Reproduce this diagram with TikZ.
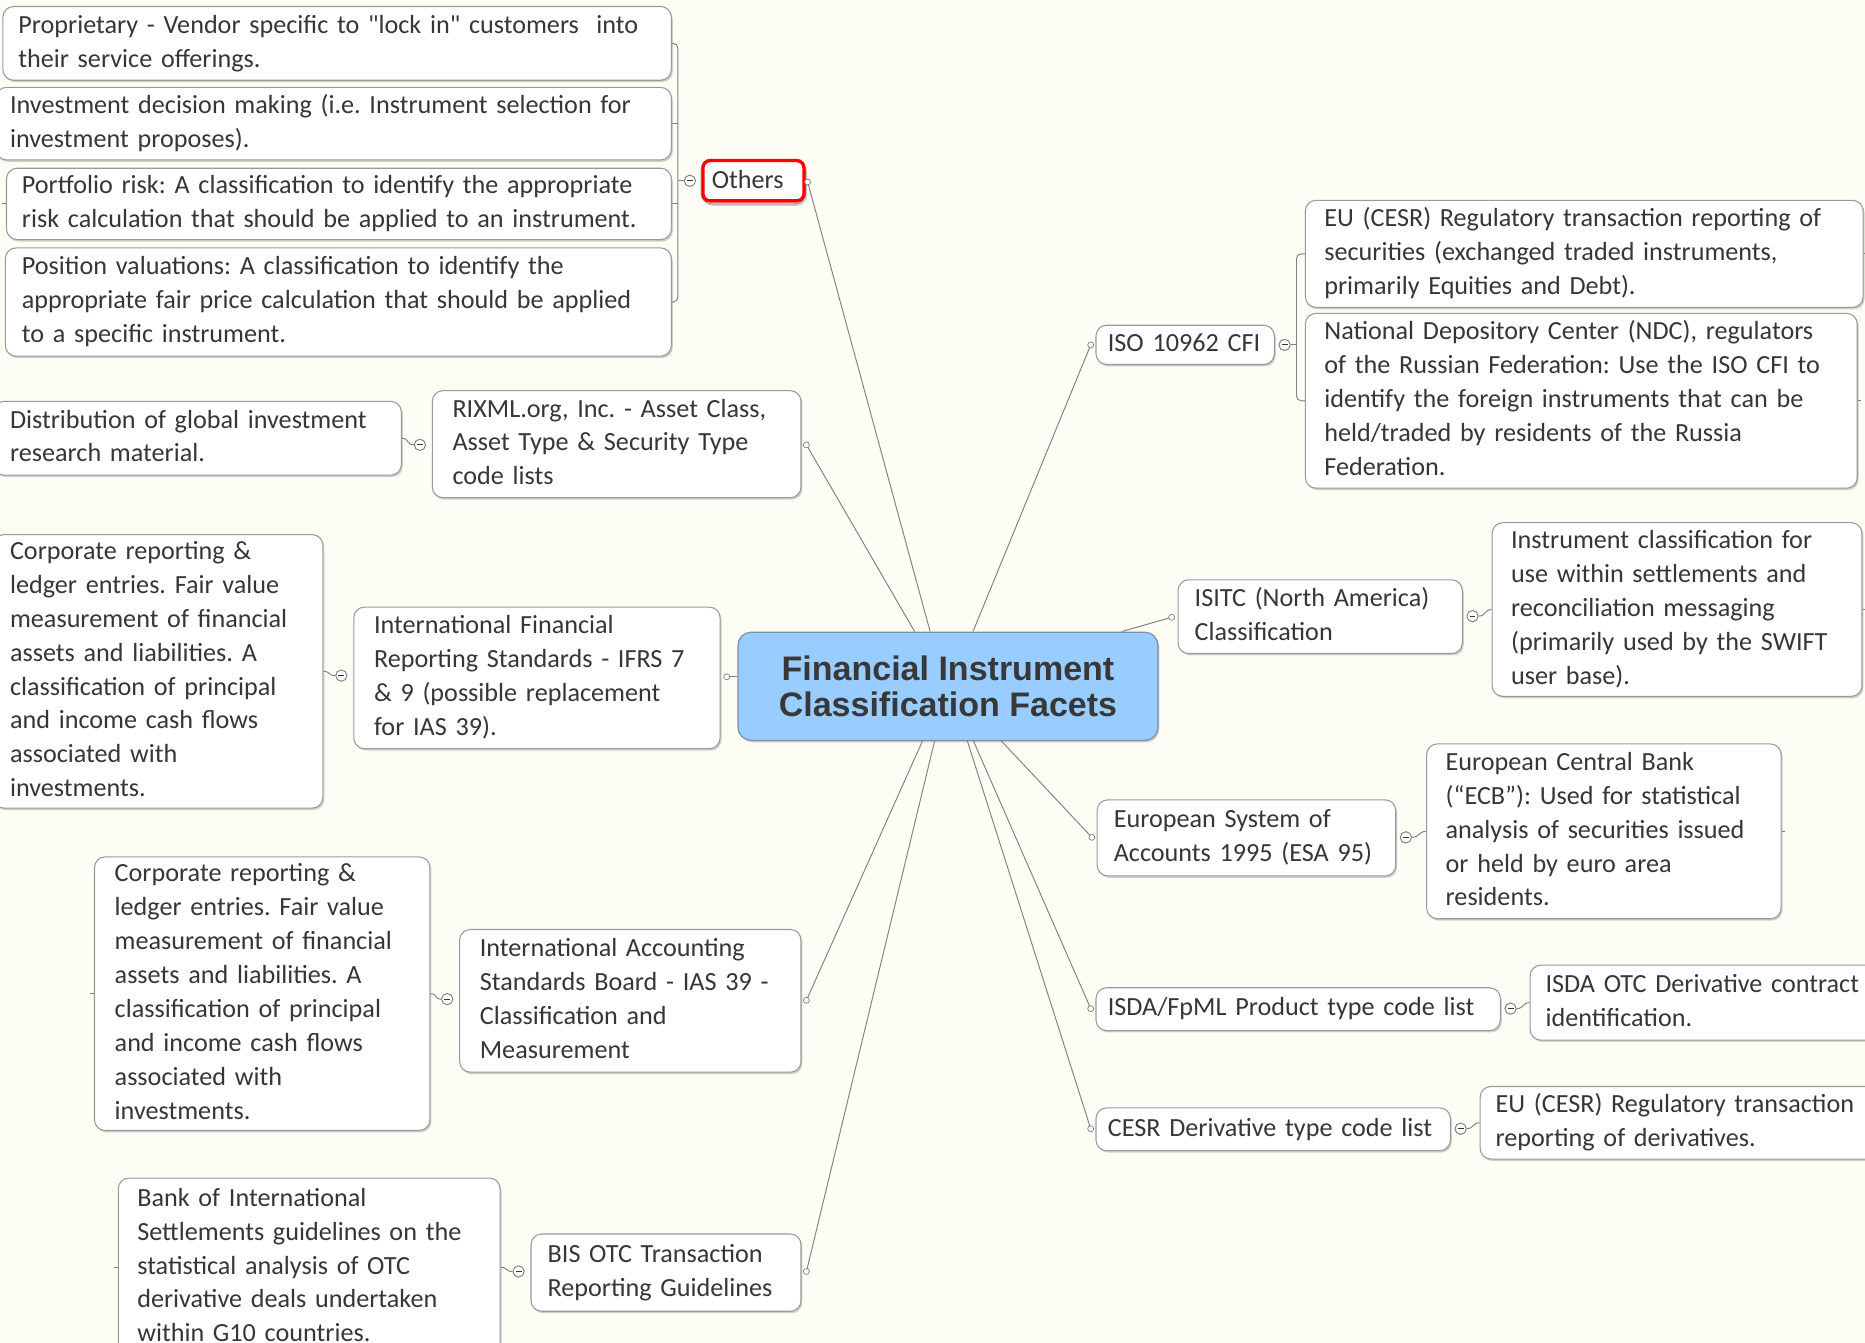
\documentclass[tikz,border=0pt]{standalone}
\usepackage{fontspec}
\newfontfamily\calfont{Carlito}
\newfontfamily\arialfont{Liberation Sans}
\usetikzlibrary{calc,shadows}
\definecolor{bgc}{HTML}{FDFDF6}
\definecolor{bordc}{HTML}{9A9A9A}
\definecolor{txtc}{HTML}{363636}
\definecolor{connc}{HTML}{808080}
\definecolor{cfill}{HTML}{99CCFF}
\definecolor{cbord}{HTML}{7890A8}
\definecolor{titc}{HTML}{383838}
\frenchspacing
\newcommand\tl[1]{\begin{tabular}{@{}l@{}}#1\end{tabular}}
\tikzset{
  leaf/.style={draw=bordc, line width=0.9pt, rounded corners=9pt, fill=white,
    anchor=north west, align=left, inner ysep=0pt,
    font=\calfont\frenchspacing\fontsize{22}{28.5}\selectfont, text=txtc,
    drop shadow={shadow xshift=1.2pt, shadow yshift=-1.6pt, fill=black!60, opacity=0.3}},
  central/.style={draw=cbord, fill=cfill, line width=1pt, rounded corners=11pt,
    anchor=north west, minimum width=353pt, minimum height=91pt, align=center,
    inner sep=0pt, font=\arialfont\bfseries\fontsize{28.6}{31}\selectfont, text=titc,
    drop shadow={shadow xshift=1.2pt, shadow yshift=-1.6pt, fill=black!60, opacity=0.3}},
  collapse/.style={circle, draw=connc, fill=white, line width=0.8pt, minimum size=9.5pt, inner sep=0pt,
    path picture={\draw[line width=0.9pt, draw=txtc] ([xshift=-2.5pt]path picture bounding box.center) -- ([xshift=2.5pt]path picture bounding box.center);}},
  dotc/.style={circle, draw=connc, fill=white, line width=0.6pt, minimum size=5pt, inner sep=0pt},
  conn/.style={draw=connc, line width=0.8pt},
}
\begin{document}
\begin{tikzpicture}[x=1pt, y=-1pt]
\useasboundingbox (0,0) rectangle (1568,1129);
\fill[bgc] (0,0) rectangle (1568,1129);
\clip (0,0) rectangle (1568,1129);

% ---------- connectors from central (drawn first, under boxes) ----------
\coordinate (ctl) at (620,531);
\coordinate (cbl) at (620,622);
\coordinate (rixd0) at (678,374);
\coordinate (othd0) at (679,153);
\coordinate (isod0) at (917,290);
\coordinate (isitcd0) at (985,519);
\coordinate (ifrsd0) at (611,569);
\coordinate (iasd0) at (678,841);
\coordinate (bisd0) at (678,1069);
\coordinate (cesrdd0) at (917,949);
\coordinate (isdad0) at (917,848);
\coordinate (esad0) at (918,704);
\draw[conn] ($(ctl)+(149,0)$) -- (rixd0);
\draw[conn] ($(ctl)+(162,0)$) -- (othd0);
\draw[conn] ($(ctl)+(198,0)$) -- (isod0);
\draw[conn] ($(ctl)+(323,0)$) -- (isitcd0);
\draw[conn] ($(ctl)+(0,38)$) -- (ifrsd0);
\draw[conn] ($(cbl)+(156,0)$) -- (iasd0);
\draw[conn] ($(cbl)+(166,0)$) -- (bisd0);
\draw[conn] ($(cbl)+(193,0)$) -- (cesrdd0);
\draw[conn] ($(cbl)+(198,0)$) -- (isdad0);
\draw[conn] ($(cbl)+(221,0)$) -- (esad0);

% ---------- central ----------
\node[central] (c) at (ctl) {Financial Instrument\\Classification Facets};

% ---------- Others subtree ----------
\node[leaf, inner xsep=13pt, text width=536pt, minimum height=62pt] (p1) at (2,5)
  {\tl{Proprietary - Vendor specific to "lock in" customers~ into\\their service offerings.}};
\node[leaf, inner xsep=12pt, text width=544pt, minimum height=61pt] (p2) at (-4,73)
  {\tl{Investment decision making (i.e. Instrument selection for\\investment proposes).}};
\node[leaf, inner xsep=13pt, text width=533pt, minimum height=60pt] (p3) at (5,141)
  {\tl{Portfolio risk: A classification to identify the appropriate\\risk calculation that should be applied to an instrument.}};
\node[leaf, inner xsep=14pt, text width=532pt, minimum height=91pt] (p4) at (4,208)
  {\tl{Position valuations: A classification to identify the\\appropriate fair price calculation that should be applied\\to a specific instrument.}};
\node[leaf, inner xsep=9pt, text width=70pt, minimum height=37pt] (oth) at (589,134)
  {\tl{Others}};
\draw[red, line width=2.8pt, rounded corners=6pt] ($(oth.north west)+(2,1)$) rectangle ($(oth.south east)+(-2,-3)$);
\node[dotc] (othd) at (othd0) {};
\node[collapse] (othc) at (580,152) {};
\coordinate (obx) at ($(p1.east)+(5,0)$);
\draw[conn, rounded corners=4pt] (p1.east) -- (obx) |- (p4.east);
\draw[conn] (p2.east) -- +(5,0);
\draw[conn] (p3.east) -- +(5,0);
\draw[conn] (othc.west) -- (othc.west -| obx);
\draw[conn] (p3.west) -- +(-3,0);

% ---------- RIXML ----------
\node[leaf, inner xsep=17pt, text width=276pt, minimum height=90pt] (rix) at (363,328)
  {\tl{RIXML.org, Inc. - Asset Class,\\Asset Type \& Security Type\\code lists}};
\node[leaf, inner xsep=14pt, text width=315pt, minimum height=62pt] (dist) at (-6,337)
  {\tl{Distribution of global investment\\research material.}};
\node[dotc] (rixd) at (rixd0) {};
\node[collapse] (rixc) at (353,374) {};
\draw[conn] (rixc.west) .. controls +(-6,0) and +(6,0) .. (dist.east);

% ---------- IFRS ----------
\node[leaf, inner xsep=17pt, text width=274pt, minimum height=119pt] (ifrs) at (297,510)
  {\tl{International Financial\\Reporting Standards - IFRS 7\\\& 9 (possible replacement\\for IAS 39).}};
\node[leaf, inner xsep=14pt, text width=249pt, minimum height=230pt] (corp1) at (-6,449)
  {\tl{Corporate reporting \&\\ledger entries. Fair value\\measurement of financial\\assets and liabilities. A\\classification of principal\\and income cash flows\\associated with\\investments.}};
\node[dotc] (ifrsd) at (ifrsd0) {};
\node[collapse] (ifrsc) at (287,568) {};
\draw[conn] (ifrsc.west) .. controls +(-6,0) and +(6,0) .. (corp1.east);

% ---------- IAS 39 ----------
\node[leaf, inner xsep=17pt, text width=253pt, minimum height=120pt] (ias) at (386,781)
  {\tl{International Accounting\\Standards Board - IAS 39 -\\Classification and\\Measurement}};
\node[leaf, inner xsep=17pt, text width=248pt, minimum height=230pt] (corp2) at (79,720)
  {\tl{Corporate reporting \&\\ledger entries. Fair value\\measurement of financial\\assets and liabilities. A\\classification of principal\\and income cash flows\\associated with\\investments.}};
\node[dotc] (iasd) at (iasd0) {};
\node[collapse] (iasc) at (376,840) {};
\draw[conn] (iasc.west) .. controls +(-6,0) and +(6,0) .. (corp2.east);
\draw[conn] (corp2.west) -- +(-3,0);

% ---------- BIS ----------
\node[leaf, inner xsep=14pt, text width=199pt, minimum height=65pt] (bis) at (446,1037)
  {\tl{BIS OTC Transaction\\Reporting Guidelines}};
\node[leaf, inner xsep=16pt, text width=289pt, minimum height=150pt] (bank) at (99,990)
  {\tl{Bank of International\\Settlements guidelines on the\\statistical analysis of OTC\\derivative deals undertaken\\within G10 countries.}};
\node[dotc] (bisd) at (bisd0) {};
\node[collapse] (bisc) at (436,1069) {};
\draw[conn] (bisc.west) .. controls +(-6,0) and +(6,0) .. (bank.east);
\draw[conn] (bank.west) -- +(-3,0);

% ---------- ISO 10962 CFI ----------
\node[leaf, inner xsep=10pt, text width=130pt, minimum height=33pt] (iso) at (921,273)
  {\tl{ISO 10962 CFI}};
\node[leaf, inner xsep=16pt, text width=437pt, minimum height=90pt] (eucesr) at (1097,168)
  {\tl{EU (CESR) Regulatory transaction reporting of\\securities (exchanged traded instruments,\\primarily Equities and Debt).}};
\node[leaf, inner xsep=16pt, text width=432pt, minimum height=147pt] (ndc) at (1097,263)
  {\tl{National Depository Center (NDC), regulators\\of the Russian Federation: Use the ISO CFI to\\identify the foreign instruments that can be\\held/traded by residents of the Russia\\Federation.}};
\node[dotc] (isod) at (isod0) {};
\node[collapse] (isoc) at (1080,290) {};
\coordinate (ibx) at ($(eucesr.west)+(-7,0)$);
\draw[conn, rounded corners=4pt] (eucesr.west) -- (ibx) |- (ndc.west);
\draw[conn] (isoc.east) -- (isoc.east -| ibx);
\draw[conn] (eucesr.east) -- +(3,0);
\draw[conn] (ndc.east) -- +(3,0);

% ---------- ISITC ----------
\node[leaf, inner xsep=14pt, text width=211pt, minimum height=62pt] (isitc) at (990,487)
  {\tl{ISITC (North America)\\Classification}};
\node[leaf, inner xsep=16pt, text width=279pt, minimum height=146pt] (instr) at (1254,439)
  {\tl{Instrument classification for\\use within settlements and\\reconciliation messaging\\(primarily used by the SWIFT\\user base).}};
\node[dotc] (isitcd) at (isitcd0) {};
\node[collapse] (isitcc) at (1238,518) {};
\draw[conn] (isitcc.east) .. controls +(6,0) and +(-6,0) .. (instr.west);
\draw[conn] (instr.east) -- +(3,0);

% ---------- ESA 95 ----------
\node[leaf, inner xsep=14pt, text width=223pt, minimum height=64pt] (esa) at (922,672)
  {\tl{European System of\\Accounts 1995 (ESA 95)}};
\node[leaf, inner xsep=16pt, text width=266pt, minimum height=147pt] (ecb) at (1199,625)
  {\tl{European Central Bank\\(“ECB”): Used for statistical\\analysis of securities issued\\or held by euro area\\residents.}};
\node[dotc] (esad) at (esad0) {};
\node[collapse] (esac) at (1182,704) {};
\draw[conn] (esac.east) .. controls +(6,0) and +(-6,0) .. (ecb.west);
\draw[conn] (ecb.east) -- +(3,0);

% ---------- ISDA/FpML ----------
\node[leaf, inner xsep=10pt, text width=320pt, minimum height=36pt] (isda) at (921,830)
  {\tl{ISDA/FpML Product type code list}};
\node[leaf, inner xsep=13pt, text width=268pt, minimum height=63pt] (isdaotc) at (1286,811)
  {\tl{ISDA OTC Derivative contract\\identification.}};
\node[dotc] (isdad) at (isdad0) {};
\node[collapse] (isdac) at (1270,848) {};
\draw[conn] (isdac.east) .. controls +(6,0) and +(-6,0) .. (isdaotc.west);

% ---------- CESR Derivative ----------
\node[leaf, inner xsep=10pt, text width=278pt, minimum height=36pt] (cesrd) at (921,931)
  {\tl{CESR Derivative type code list}};
\node[leaf, inner xsep=13pt, text width=310pt, minimum height=61pt] (eucesrd) at (1244,913)
  {\tl{EU (CESR) Regulatory transaction\\reporting of derivatives.}};
\node[dotc] (cesrdd) at (cesrdd0) {};
\node[collapse] (cesrdc) at (1228,949) {};
\draw[conn] (cesrdc.east) .. controls +(6,0) and +(-6,0) .. (eucesrd.west);
\end{tikzpicture}
\end{document}
